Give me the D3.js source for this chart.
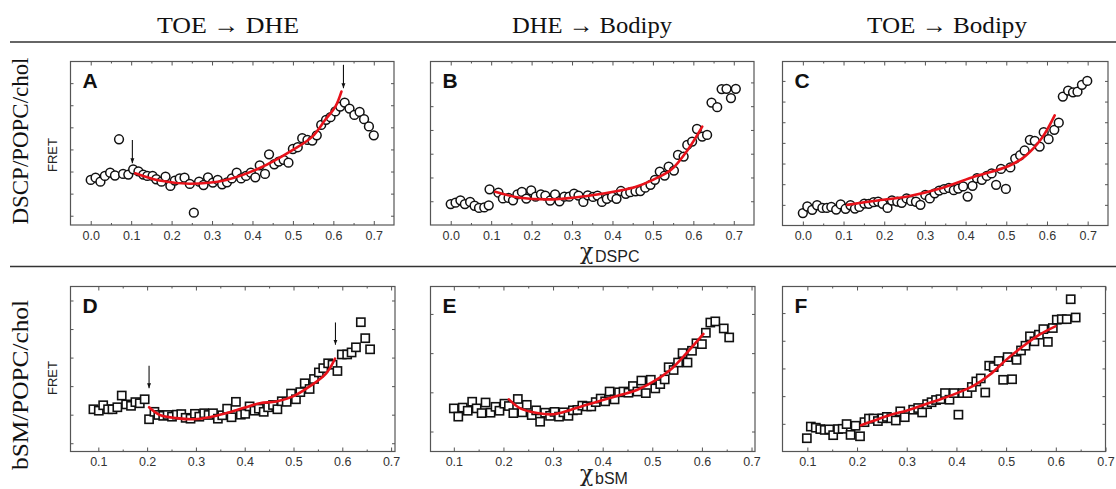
<!DOCTYPE html>
<html><head><meta charset="utf-8">
<script src="https://cdn.jsdelivr.net/npm/d3@7"></script>
<style>body{margin:0;background:#fff}svg{display:block}</style>
</head><body><svg id="c" width="1116" height="489"></svg>
<script>
// ---------- tick labels / headers ----------
const colHeaders = ["TOE \u2192 DHE", "DHE \u2192 Bodipy", "TOE \u2192 Bodipy"];
const rowLabels = ["DSCP/POPC/chol", "bSM/POPC/chol"];
const xLabels = ["DSPC", "bSM"];
const xTicksRow1 = [0.0, 0.1, 0.2, 0.3, 0.4, 0.5, 0.6, 0.7];
const xMinorRow1 = [0.05, 0.15, 0.25, 0.35, 0.45, 0.55, 0.65];
const xTicksRow2 = [0.1, 0.2, 0.3, 0.4, 0.5, 0.6, 0.7];
const xMinorRow2 = [0.15, 0.25, 0.35, 0.45, 0.55, 0.65];

// ---------- Panel A (TOE->DHE, DSPC) ----------
const xA = [0.0,0.012,0.024,0.035,0.048,0.06,0.07,0.08,0.093,0.105,0.118,0.13,0.14,0.153,0.162,0.175,0.185,0.197,0.208,0.22,0.232,0.245,0.255,0.268,0.279,0.29,0.302,0.314,0.325,0.337,0.349,0.361,0.372,0.384,0.396,0.407,0.418,0.431,0.441,0.454,0.465,0.477,0.489,0.5,0.512,0.523,0.536,0.548,0.559,0.57,0.582,0.593,0.605,0.617,0.628,0.64,0.652,0.665,0.676,0.688,0.7];
const yA = [2.62,2.72,2.54,2.8,2.95,2.82,4.46,2.89,2.86,3.1,3.01,2.86,2.8,2.8,2.65,2.54,2.77,2.35,2.59,2.69,2.72,2.44,1.14,2.54,2.39,2.74,2.5,2.62,2.42,2.51,2.69,2.95,2.69,2.8,2.95,2.74,3.28,2.89,3.78,3.33,3.45,3.53,3.4,4.02,4.1,4.51,4.43,4.4,4.64,5.11,5.34,5.46,5.72,5.94,6.12,5.85,5.56,5.7,5.37,5.04,4.64];
const fitAx = [0.11,0.17,0.245,0.335,0.417,0.5,0.548,0.58,0.605,0.62];
const fitAy = [2.92,2.59,2.45,2.62,3.15,3.98,4.58,5.34,5.94,6.62];
const arrowsA = [[0.103,4.43,3.37],[0.625,7.83,6.77]];

// ---------- Panel B (DHE->Bodipy, DSPC) ----------
const xB = [0,0.012,0.024,0.035,0.048,0.059,0.07,0.083,0.094,0.096,0.118,0.129,0.143,0.154,0.165,0.176,0.187,0.199,0.21,0.223,0.234,0.246,0.258,0.269,0.281,0.293,0.305,0.316,0.328,0.339,0.352,0.363,0.374,0.386,0.399,0.41,0.421,0.433,0.444,0.457,0.469,0.481,0.494,0.505,0.517,0.529,0.539,0.552,0.562,0.576,0.585,0.597,0.609,0.622,0.634,0.645,0.659,0.67,0.682,0.693,0.705];
const yB = [0.88,0.94,1.04,0.88,0.97,0.81,0.72,0.74,0.83,1.5,1.36,1.12,1.14,1.04,1.29,1.39,1.11,1.46,1.19,1.29,1.24,1.03,1.29,1.0,1.19,1.19,1.32,1.24,0.97,1.25,1.18,1.24,0.97,1.1,1.19,1.1,1.43,1.31,1.38,1.42,1.43,1.57,1.69,1.9,2.25,2.08,2.46,2.29,2.95,2.88,3.37,3.51,4.04,3.72,3.79,5.15,4.96,5.72,5.73,5.34,5.73];
const fitBx = [0.11,0.171,0.254,0.337,0.419,0.46,0.5,0.545,0.586,0.622];
const fitBy = [1.40,1.15,1.08,1.22,1.45,1.62,1.9,2.32,3.16,4.14];

// ---------- Panel C (TOE->Bodipy, DSPC) ----------
const xC = [0,0.011,0.023,0.035,0.048,0.059,0.07,0.082,0.093,0.105,0.117,0.128,0.139,0.151,0.162,0.174,0.185,0.196,0.208,0.219,0.232,0.243,0.255,0.266,0.278,0.289,0.301,0.312,0.324,0.335,0.347,0.359,0.371,0.382,0.394,0.405,0.417,0.428,0.44,0.452,0.464,0.475,0.487,0.499,0.51,0.522,0.534,0.545,0.558,0.57,0.582,0.592,0.604,0.618,0.629,0.639,0.652,0.664,0.675,0.686,0.699];
const yC = [0.6,0.92,0.76,0.98,0.85,0.85,0.9,0.77,1.02,0.81,0.98,0.82,0.9,1.06,1.05,1.13,1.16,1.05,0.85,1.21,1.16,1.1,1.31,1.19,1.15,1.0,1.48,1.31,1.56,1.69,1.76,1.82,1.71,1.79,1.89,1.4,1.92,2.29,2.21,2.4,2.52,1.97,2.74,1.77,2.81,3.24,3.4,3.63,4.15,4.1,3.82,4.52,4.18,4.63,4.98,6.24,6.53,6.45,6.48,6.81,7.0];
const fitCx = [0.109,0.179,0.26,0.342,0.424,0.506,0.547,0.588,0.619];
const fitCy = [1.0,1.2,1.42,1.82,2.38,2.88,3.37,4.25,5.33];

// ---------- Panel D (TOE->DHE, bSM) ----------
const xD = [0.09,0.101,0.11,0.12,0.129,0.139,0.148,0.157,0.167,0.176,0.185,0.195,0.204,0.215,0.223,0.233,0.242,0.251,0.261,0.27,0.279,0.289,0.298,0.307,0.317,0.326,0.335,0.345,0.354,0.364,0.373,0.382,0.392,0.401,0.41,0.42,0.429,0.439,0.448,0.458,0.467,0.476,0.486,0.495,0.505,0.514,0.523,0.533,0.542,0.552,0.561,0.571,0.58,0.59,0.599,0.61,0.619,0.628,0.638,0.647,0.657];
const yD = [2.19,2.14,2.33,2.19,2.19,2.26,2.67,2.36,2.31,2.44,2.4,2.54,1.84,2.1,1.99,1.96,1.99,1.93,2.0,2.02,1.89,1.86,2.03,1.93,2.05,1.99,2.05,1.86,1.98,2.21,1.91,2.45,2.0,2.03,2.29,2.14,2.21,2.1,2.26,2.34,2.19,2.47,2.45,2.74,2.54,2.79,3.1,2.9,3.25,3.48,3.63,3.8,3.75,3.53,4.11,4.11,4.18,4.36,5.24,4.68,4.29];
const fitDx = [0.204,0.226,0.26,0.294,0.328,0.362,0.397,0.431,0.465,0.499,0.533,0.567,0.585];
const fitDy = [2.26,1.99,1.88,1.84,1.91,2.05,2.23,2.4,2.46,2.64,2.99,3.45,3.96];
const arrowsD = [[0.204,3.71,2.93],[0.586,5.23,4.45]];

// ---------- Panel E (DHE->Bodipy, bSM) ----------
const xE = [0.1,0.109,0.118,0.128,0.137,0.146,0.156,0.164,0.174,0.184,0.192,0.202,0.211,0.22,0.229,0.238,0.247,0.257,0.266,0.274,0.284,0.294,0.303,0.312,0.321,0.331,0.34,0.349,0.359,0.368,0.377,0.386,0.396,0.405,0.414,0.424,0.433,0.442,0.452,0.461,0.47,0.478,0.487,0.497,0.506,0.516,0.525,0.533,0.543,0.552,0.561,0.571,0.58,0.589,0.6,0.608,0.617,0.627,0.644,0.655];
const yE = [1.59,1.38,1.61,1.53,1.76,1.59,1.47,1.74,1.48,1.63,1.53,1.71,1.65,1.47,1.83,1.49,1.68,1.42,1.54,1.25,1.48,1.4,1.5,1.38,1.49,1.4,1.54,1.55,1.66,1.64,1.64,1.75,1.84,1.77,2.02,1.82,2.0,2.02,1.99,2.16,2.02,2.3,1.98,2.32,2.1,2.21,2.33,2.64,2.57,2.76,3.0,2.76,3.06,3.25,3.23,3.52,3.78,3.81,3.63,3.4];
const fitEx = [0.211,0.234,0.268,0.301,0.335,0.368,0.402,0.435,0.469,0.502,0.536,0.569,0.603];
const fitEy = [1.82,1.59,1.47,1.44,1.55,1.68,1.81,1.93,2.06,2.27,2.57,3.0,3.49];

// ---------- Panel F (TOE->Bodipy, bSM) ----------
const xF = [0.099,0.107,0.117,0.126,0.135,0.144,0.152,0.162,0.171,0.179,0.187,0.197,0.206,0.215,0.224,0.233,0.242,0.251,0.26,0.269,0.278,0.287,0.296,0.313,0.323,0.331,0.341,0.35,0.359,0.368,0.377,0.386,0.395,0.404,0.413,0.422,0.431,0.44,0.449,0.458,0.466,0.475,0.485,0.494,0.503,0.512,0.521,0.53,0.539,0.548,0.557,0.566,0.575,0.584,0.594,0.602,0.612,0.622,0.63,0.64];
const yF = [0.48,0.9,0.86,0.81,0.78,0.8,0.59,0.81,0.82,0.99,0.6,0.93,0.55,1.06,1.19,1.19,1.1,1.2,1.25,1.2,1.12,1.45,1.24,1.51,1.57,1.41,1.71,1.78,1.86,1.89,2.11,1.87,2.11,1.33,2.11,2.11,2.33,2.53,2.64,2.13,3.1,3.05,3.27,2.59,3.41,2.61,3.31,3.65,3.82,4.16,3.98,4.22,4.42,3.96,4.46,4.76,4.78,4.78,5.5,4.84];
const fitFx = [0.208,0.235,0.268,0.301,0.335,0.368,0.401,0.434,0.467,0.5,0.534,0.567,0.599];
const fitFy = [0.95,1.12,1.33,1.48,1.69,1.89,2.11,2.37,2.77,3.31,3.8,4.22,4.52];

// ---------- layout (positions only) ----------
const panels = [
  {id:"A", xs:xA, ys:yA, fx:fitAx, fy:fitAy, arrows:arrowsA, mk:"circle", box:[70.5,61.5,394,225], xd:[-0.05,0.75], yd:[0.58,7.98], yt:[1,2,3,4,5,6,7], xt:xTicksRow1, xm:xMinorRow1},
  {id:"B", xs:xB, ys:yB, fx:fitBx, fy:fitBy, arrows:[], mk:"circle", box:[430.5,61.5,754,225], xd:[-0.05,0.75], yd:[0,6.88], yt:[1,2,3,4,5,6], xt:xTicksRow1, xm:xMinorRow1},
  {id:"C", xs:xC, ys:yC, fx:fitCx, fy:fitCy, arrows:[], mk:"circle", box:[782.5,61.5,1108,225.5], xd:[-0.05,0.75], yd:[0,7.94], yt:[1,2,3,4,5,6,7], xt:xTicksRow1, xm:xMinorRow1},
  {id:"D", xs:xD, ys:yD, fx:fitDx, fy:fitDy, arrows:arrowsD, mk:"square", box:[70.5,286.5,395,451.5], xd:[0.043,0.708], yd:[0.71,6.49], yt:[1,2,3,4,5,6], xt:xTicksRow2, xm:xMinorRow2},
  {id:"E", xs:xE, ys:yE, fx:fitEx, fy:fitEy, arrows:[], mk:"square", box:[430.5,286.5,755,451.5], xd:[0.053,0.707], yd:[0.49,4.70], yt:[1,2,3,4], xt:xTicksRow2, xm:xMinorRow2},
  {id:"F", xs:xF, ys:yF, fx:fitFx, fy:fitFy, arrows:[], mk:"square", box:[782.5,286.5,1105.5,451.5], xd:[0.05,0.7], yd:[0,5.96], yt:[1,2,3,4,5], xt:xTicksRow2, xm:xMinorRow2}
];

const svg = d3.select("#c");
const SANS = "'Liberation Sans', Arial, Helvetica, sans-serif";
const SERIF = "'Liberation Serif', 'Times New Roman', serif";

svg.append("defs").append("marker")
  .attr("id","ah").attr("viewBox","0 0 10 10").attr("refX",10).attr("refY",5)
  .attr("markerWidth",5).attr("markerHeight",5).attr("markerUnits","userSpaceOnUse")
  .attr("orient","auto")
  .append("path").attr("d","M0,1 L10,5 L0,9 Z").attr("fill","#111");

// headers and separator lines
const headerX = [228, 592, 947];
const headerW = [142, 160, 160];
colHeaders.forEach((t,i)=>{
  svg.append("text").attr("x",headerX[i]).attr("y",33).attr("text-anchor","middle")
    .attr("font-family",SERIF).attr("font-size",24).attr("fill","#111")
    .attr("textLength",headerW[i]).attr("lengthAdjust","spacingAndGlyphs").text(t);
});
[42, 266.5].forEach(y=>{
  svg.append("line").attr("x1",10).attr("x2",1116).attr("y1",y).attr("y2",y)
    .attr("stroke","#333").attr("stroke-width",1.5);
});

// row labels
const rowCenters = [141, 385];
const rowLens = [167, 170];
const fretCenters = [155, 378];
rowLabels.forEach((t,i)=>{
  svg.append("text").attr("transform",`translate(28,${rowCenters[i]}) rotate(-90)`)
    .attr("text-anchor","middle").attr("font-family",SERIF).attr("font-size",24).attr("fill","#111")
    .attr("textLength",rowLens[i]).attr("lengthAdjust","spacingAndGlyphs").text(t);
  svg.append("text").attr("transform",`translate(57,${fretCenters[i]}) rotate(-90)`)
    .attr("text-anchor","middle").attr("font-family",SANS).attr("font-size",13).attr("fill","#222")
    .text("FRET");
});

// x axis labels (chi)
const chiY = [259, 481];
xLabels.forEach((t,i)=>{
  const tx = svg.append("text").attr("x",580).attr("y",chiY[i]).attr("fill","#222");
  tx.append("tspan").attr("font-family","'DejaVu Serif', serif").attr("font-size",22).text("\u03c7");
  tx.append("tspan").attr("x",595).attr("font-family",SANS).attr("font-size",16).attr("dy",3).text(t);
});

const fmt = d3.format(".1f");
const line = d3.line().curve(d3.curveCatmullRom.alpha(0.5));

panels.forEach(p=>{
  const [L,T,R,B] = p.box;
  const x = d3.scaleLinear().domain(p.xd).range([L,R]);
  const y = d3.scaleLinear().domain(p.yd).range([B,T]);
  const g = svg.append("g");

  const styleAxis = sel => {
    sel.select(".domain").remove();
    sel.selectAll(".tick line").attr("stroke","#555").attr("stroke-width",1);
    sel.selectAll(".tick text").attr("fill","#333").attr("font-family",SANS).attr("font-size",12.5);
  };
  const inX = p.xt.filter(v=>v>=p.xd[0]-1e-9 && v<=p.xd[1]+1e-9);
  g.append("g").attr("transform",`translate(0,${B})`)
    .call(d3.axisBottom(x).tickValues(inX).tickSize(-4).tickPadding(6).tickFormat(fmt)).call(styleAxis);
  g.append("g").attr("transform",`translate(0,${B})`)
    .call(d3.axisBottom(x).tickValues(p.xm).tickSize(-2).tickFormat("")).call(styleAxis);
  g.append("g").attr("transform",`translate(0,${T})`)
    .call(d3.axisTop(x).tickValues(inX).tickSize(-4).tickFormat("")).call(styleAxis);
  g.append("g").attr("transform",`translate(0,${T})`)
    .call(d3.axisTop(x).tickValues(p.xm).tickSize(-2).tickFormat("")).call(styleAxis);
  g.append("g").attr("transform",`translate(${L},0)`)
    .call(d3.axisLeft(y).tickValues(p.yt).tickSize(-3).tickFormat("")).call(styleAxis);
  g.append("g").attr("transform",`translate(${R},0)`)
    .call(d3.axisRight(y).tickValues(p.yt).tickSize(-3).tickFormat("")).call(styleAxis);

  g.append("rect").attr("x",L).attr("y",T).attr("width",R-L).attr("height",B-T)
    .attr("fill","none").attr("stroke","#555").attr("stroke-width",1.2);

  g.append("text").attr("x",L+12).attr("y",T+26).attr("font-family",SANS)
    .attr("font-weight","bold").attr("font-size",21).attr("fill","#111").text(p.id);

  const pts = p.xs.map((v,i)=>[v,p.ys[i]]);
  if (p.mk === "circle") {
    g.selectAll("circle.pt").data(pts).join("circle").attr("class","pt")
      .attr("cx",d=>x(d[0])).attr("cy",d=>y(d[1])).attr("r",4.4)
      .attr("fill","#fff").attr("stroke","#111").attr("stroke-width",1.5);
  } else {
    const s = 8.2;
    g.selectAll("rect.pt").data(pts).join("rect").attr("class","pt")
      .attr("x",d=>x(d[0])-s/2).attr("y",d=>y(d[1])-s/2).attr("width",s).attr("height",s)
      .attr("fill","#fff").attr("stroke","#111").attr("stroke-width",1.6);
  }

  const fit = p.fx.map((v,i)=>[x(v),y(p.fy[i])]);
  g.append("path").attr("d",line(fit)).attr("fill","none")
    .attr("stroke","#e8121a").attr("stroke-width",2.6).attr("stroke-linecap","round");

  p.arrows.forEach(a=>{
    g.append("line").attr("x1",x(a[0])).attr("x2",x(a[0])).attr("y1",y(a[1])).attr("y2",y(a[2]))
      .attr("stroke","#111").attr("stroke-width",1.1).attr("marker-end","url(#ah)");
  });
});
</script>
</body></html>
